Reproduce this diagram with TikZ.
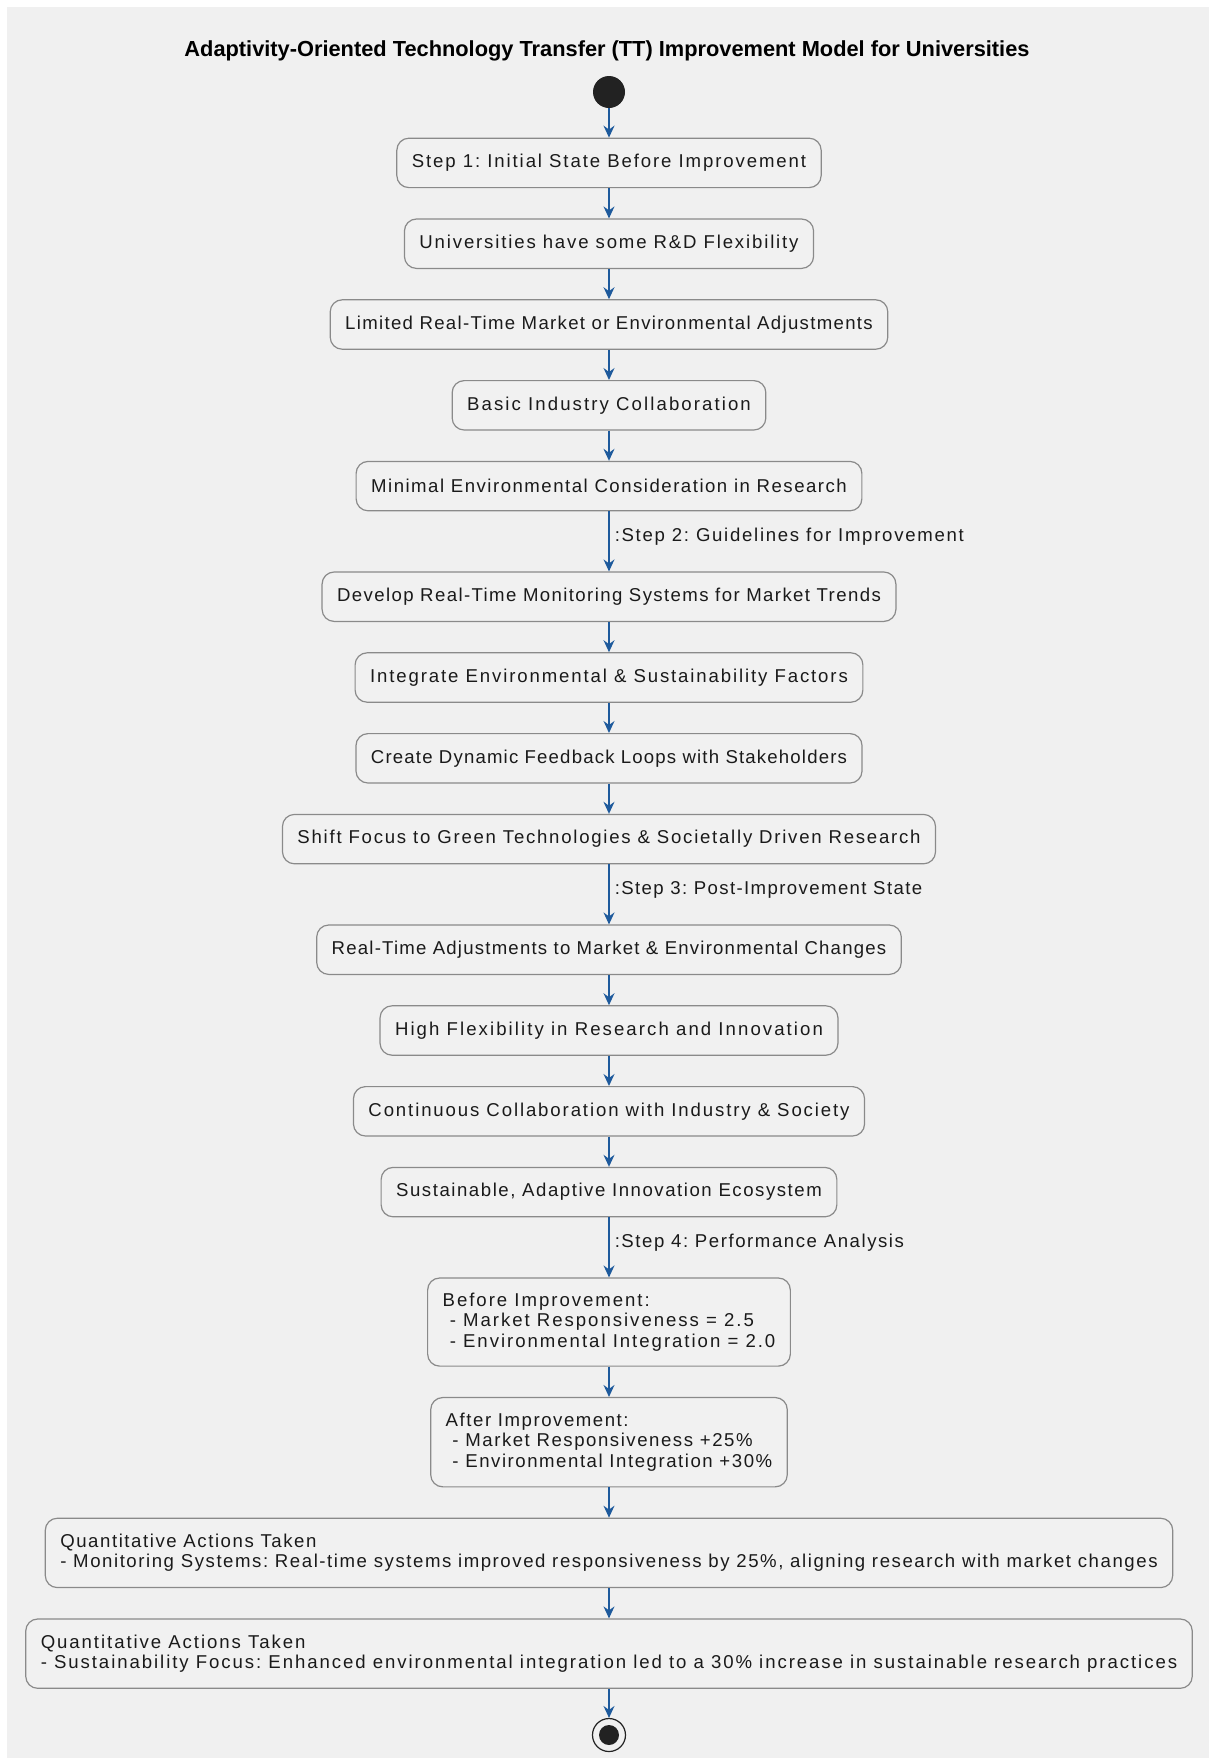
\documentclass[tikz,border=0pt]{standalone}
\usepackage{fontspec}
\setmainfont{Liberation Sans}
\newfontfamily\umlFont[LetterSpace=9]{Liberation Sans}
\frenchspacing
\usetikzlibrary{positioning,arrows.meta}
\definecolor{UmlBg}{HTML}{F0F0F0}
\definecolor{UmlFill}{HTML}{F1F1F1}
\definecolor{UmlBorder}{HTML}{8A8A8A}
\definecolor{UmlArrow}{HTML}{1E5A9C}
\definecolor{UmlDot}{HTML}{222222}
\definecolor{UmlText}{HTML}{1A1A1A}
\tikzset{
  actBox/.style={draw=UmlBorder, fill=UmlFill, rounded corners=6pt, line width=0.6pt,
    inner xsep=7.5pt, inner ysep=4pt, minimum height=24.7pt, align=center,
    font=\umlFont\fontsize{9.3}{10.1}\selectfont, text=UmlText},
  actMulti/.style={actBox, align=left, inner ysep=7.6pt},
  track/.style={font=\umlFont\addfontfeature{LetterSpace=#1}\fontsize{9.3}{10.1}\selectfont},
  flow/.style={-{Stealth[length=6pt, width=5.5pt, inset=2pt]}, line width=0.75pt, draw=UmlArrow},
  stepLbl/.style={font=\umlFont\fontsize{9.3}{10.1}\selectfont, text=UmlText, anchor=west, inner sep=2.5pt},
  titleLbl/.style={font=\bfseries\fontsize{10.9}{12}\selectfont, text=black},
  startDot/.style={circle, fill=UmlDot, minimum size=16pt, inner sep=0pt},
  stopRing/.style={circle, draw=UmlDot, line width=0.6pt, fill=UmlBg, minimum size=16.5pt, inner sep=0pt,
    path picture={\fill[UmlDot] (path picture bounding box.center) circle (5pt);}},
}

\begin{document}
\begin{tikzpicture}[x=0.5pt, y=-0.5pt, node distance=15.1pt]
  \useasboundingbox (0,0) rectangle (1209,1758);
  \fill[UmlBg] (7,7) rectangle (1209,1758);

  \node[titleLbl] (title) at (607,51) {Adaptivity-Oriented Technology Transfer (TT) Improvement Model for Universities};
  \node[startDot] (start) at (609,92) {};

  % Step 1
  \node[actBox, track=10.2, below=14.6pt of start] (initState) {Step 1: Initial State Before Improvement};
  \node[actBox, track=9.9, below=of initState] (rdFlex) {Universities have some R\&D Flexibility};
  \node[actBox, track=7.1, below=of rdFlex] (limAdj) {Limited Real-Time Market or Environmental Adjustments};
  \node[actBox, track=11.2, below=of limAdj] (basicCollab) {Basic Industry Collaboration};
  \node[actBox, track=8.1, below=of basicCollab] (minEnv) {Minimal Environmental Consideration in Research};

  % Step 2
  \node[actBox, track=7.5, below=30pt of minEnv] (monitor) {Develop Real-Time Monitoring Systems for Market Trends};
  \node[actBox, track=10.1, below=of monitor] (integrate) {Integrate Environmental \& Sustainability Factors};
  \node[actBox, track=6.3, below=of integrate] (feedback) {Create Dynamic Feedback Loops with Stakeholders};
  \node[actBox, track=9.4, below=of feedback] (greenShift) {Shift Focus to Green Technologies \& Societally Driven Research};

  % Step 3
  \node[actBox, track=6.5, below=30pt of greenShift] (rtAdjust) {Real-Time Adjustments to Market \& Environmental Changes};
  \node[actBox, track=11.1, below=of rtAdjust] (highFlex) {High Flexibility in Research and Innovation};
  \node[actBox, track=10.1, below=of highFlex] (contCollab) {Continuous Collaboration with Industry \& Society};
  \node[actBox, track=8.3, below=of contCollab] (ecosystem) {Sustainable, Adaptive Innovation Ecosystem};

  % Step 4
  \node[actMulti, track=10.6, below=30pt of ecosystem] (before) {Before Improvement:\\ \ - Market Responsiveness = 2.5\\ \ - Environmental Integration = 2.0};
  \node[actMulti, track=8.3, inner ysep=7.9pt, below=of before] (after) {After Improvement:\\ \ - Market Responsiveness +25\%\\ \ - Environmental Integration +30\%};
  \node[actMulti, track=8.4, inner ysep=7.95pt, below=of after] (qaMonitor) {Quantitative Actions Taken\\- Monitoring Systems: Real-time systems improved responsiveness by 25\%, aligning research with market changes};
  \node[actMulti, track=10.4, inner ysep=7.95pt, below=of qaMonitor] (qaSustain) {Quantitative Actions Taken\\- Sustainability Focus: Enhanced environmental integration led to a 30\% increase in sustainable research practices};
  \node[stopRing, below=14.5pt of qaSustain] (stop) {};

  \foreach \a/\b in {start/initState, initState/rdFlex, rdFlex/limAdj, limAdj/basicCollab, basicCollab/minEnv,
    monitor/integrate, integrate/feedback, feedback/greenShift,
    rtAdjust/highFlex, highFlex/contCollab, contCollab/ecosystem,
    before/after, after/qaMonitor, qaMonitor/qaSustain, qaSustain/stop}
    \draw[flow] (\a) -- (\b);
  \draw[flow] (minEnv) -- node[stepLbl, track=9.2, pos=0.42] {:Step 2: Guidelines for Improvement} (monitor);
  \draw[flow] (greenShift) -- node[stepLbl, track=7.5, pos=0.42] {:Step 3: Post-Improvement State} (rtAdjust);
  \draw[flow] (ecosystem) -- node[stepLbl, track=8.4, pos=0.42] {:Step 4: Performance Analysis} (before);

\end{tikzpicture}
\end{document}
